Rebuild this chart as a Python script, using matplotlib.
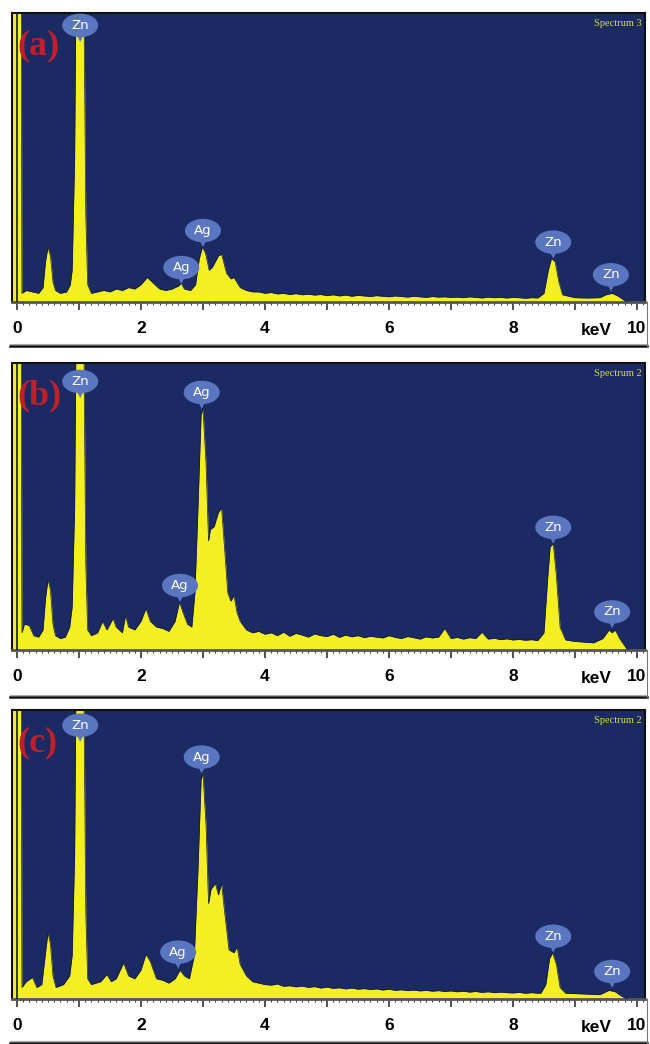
import matplotlib
matplotlib.use("Agg")
import matplotlib.pyplot as plt
import matplotlib.transforms as transforms
from matplotlib.patches import Ellipse, Polygon
from matplotlib.lines import Line2D
from matplotlib.ticker import FixedLocator, MultipleLocator

# ---- data (keV, relative counts; 1.0 = top of panel) ----
TAIL_KEV = [3.9, 4.0, 4.1, 4.2, 4.3, 4.4, 4.5, 4.6, 4.7, 4.8,
            4.9, 5.0, 5.1, 5.2, 5.3, 5.4, 5.5, 5.6, 5.7, 5.8,
            5.9, 6.0, 6.1, 6.2, 6.3, 6.4, 6.5, 6.6, 6.7, 6.8,
            6.9, 7.0, 7.1, 7.2, 7.3, 7.4, 7.5, 7.6, 7.7, 7.8,
            7.9, 8.0, 8.1, 8.2, 8.3, 8.4]

# panel (a)
a_head_keV = [-0.1, 0.07, 0.08, 0.15, 0.25, 0.35, 0.42, 0.46, 0.5, 0.54, 0.58, 0.62, 0.7, 0.8,
              0.86, 0.89, 0.93, 0.95, 1.08, 1.11, 1.14, 1.2, 1.3, 1.4, 1.5, 1.6, 1.7, 1.8,
              1.9, 2.0, 2.1, 2.2, 2.3, 2.4, 2.5, 2.6, 2.65, 2.7, 2.8, 2.88, 2.94, 2.99,
              3.04, 3.1, 3.15, 3.25, 3.3, 3.38, 3.45, 3.5, 3.6, 3.7, 3.8]
a_head = [1.05, 1.05, 0.03, 0.04, 0.035, 0.03, 0.05, 0.14, 0.19, 0.16, 0.07, 0.04, 0.03, 0.035,
          0.06, 0.11, 0.5, 1.05, 1.05, 0.3, 0.06, 0.03, 0.035, 0.04, 0.035, 0.045, 0.04, 0.05,
          0.045, 0.06, 0.085, 0.065, 0.045, 0.04, 0.045, 0.055, 0.065, 0.045, 0.04, 0.06, 0.15, 0.19,
          0.17, 0.11, 0.12, 0.16, 0.165, 0.1, 0.08, 0.085, 0.05, 0.04, 0.035]
a_tail = [0.035, 0.03, 0.033, 0.028, 0.03, 0.026, 0.029, 0.025, 0.027, 0.024,
          0.026, 0.022, 0.025, 0.021, 0.024, 0.02, 0.023, 0.021, 0.019, 0.022,
          0.02, 0.018, 0.021, 0.019, 0.017, 0.02, 0.018, 0.016, 0.019, 0.017,
          0.018, 0.016, 0.017, 0.015, 0.018, 0.016, 0.014, 0.017, 0.015, 0.016,
          0.014, 0.016, 0.015, 0.013, 0.015, 0.014]
a_end_keV = [8.5, 8.57, 8.62, 8.68, 8.74, 8.8, 9.0, 9.2, 9.4, 9.5, 9.6, 9.7, 9.8, 9.85]
a_end = [0.03, 0.11, 0.15, 0.14, 0.07, 0.025, 0.015, 0.014, 0.015, 0.025, 0.03, 0.02, 0.005, 0.0]

# panel (b)
b_head_keV = [-0.1, 0.07, 0.08, 0.12, 0.2, 0.27, 0.35, 0.42, 0.46, 0.5, 0.54, 0.58, 0.62, 0.7, 0.78,
              0.85, 0.89, 0.93, 0.95, 1.08, 1.11, 1.14, 1.2, 1.3, 1.38, 1.45, 1.55, 1.6, 1.7,
              1.75, 1.8, 1.9, 2.0, 2.08, 2.15, 2.25, 2.35, 2.45, 2.55, 2.62, 2.68, 2.75, 2.82,
              2.87, 2.92, 2.97, 3.0, 3.05, 3.09, 3.12, 3.18, 3.25, 3.3, 3.35, 3.4, 3.45, 3.5, 3.55,
              3.6, 3.7, 3.8]
b_head = [1.05, 1.05, 0.06, 0.09, 0.085, 0.05, 0.045, 0.07, 0.18, 0.245, 0.21, 0.09, 0.05, 0.04, 0.045,
          0.08, 0.15, 0.5, 1.05, 1.05, 0.3, 0.07, 0.05, 0.06, 0.1, 0.07, 0.11, 0.08, 0.06,
          0.12, 0.08, 0.07, 0.1, 0.145, 0.1, 0.08, 0.075, 0.065, 0.1, 0.167, 0.13, 0.09, 0.08,
          0.2, 0.5, 0.82, 0.84, 0.65, 0.38, 0.42, 0.43, 0.48, 0.495, 0.35, 0.2, 0.17, 0.19, 0.13,
          0.1, 0.07, 0.06]
b_tail = [0.065, 0.055, 0.06, 0.05, 0.062, 0.048, 0.058, 0.052, 0.045, 0.056,
          0.05, 0.047, 0.055, 0.044, 0.052, 0.046, 0.05, 0.043, 0.048, 0.045,
          0.042, 0.05, 0.044, 0.04, 0.047, 0.043, 0.038, 0.046, 0.042, 0.045,
          0.075, 0.04, 0.044, 0.038, 0.043, 0.04, 0.062, 0.038, 0.041, 0.036,
          0.039, 0.035, 0.037, 0.034, 0.036, 0.033]
b_end_keV = [8.5, 8.56, 8.6, 8.65, 8.7, 8.76, 8.85, 9.0, 9.3, 9.45, 9.55, 9.6, 9.65, 9.72, 9.8, 9.85]
b_end = [0.06, 0.25, 0.36, 0.37, 0.26, 0.08, 0.035, 0.03, 0.025, 0.04, 0.07, 0.06, 0.07, 0.04, 0.015, 0.0]

# panel (c)
c_head_keV = [-0.1, 0.07, 0.08, 0.15, 0.25, 0.32, 0.4, 0.46, 0.5, 0.54, 0.58, 0.63, 0.75, 0.85,
              0.89, 0.93, 0.95, 1.08, 1.11, 1.14, 1.2, 1.35, 1.45, 1.52, 1.6, 1.72, 1.8,
              1.9, 2.0, 2.08, 2.15, 2.25, 2.35, 2.45, 2.55, 2.63, 2.7, 2.78, 2.86, 2.92,
              2.97, 3.0, 3.05, 3.09, 3.13, 3.2, 3.25, 3.3, 3.35, 3.42, 3.5, 3.55, 3.6, 3.7, 3.8]
c_head = [1.05, 1.05, 0.04, 0.06, 0.075, 0.04, 0.05, 0.16, 0.23, 0.19, 0.08, 0.04, 0.05, 0.08,
          0.15, 0.5, 1.05, 1.05, 0.3, 0.07, 0.05, 0.06, 0.085, 0.06, 0.07, 0.125, 0.08,
          0.07, 0.1, 0.155, 0.13, 0.07, 0.065, 0.055, 0.07, 0.1, 0.08, 0.07, 0.15, 0.45,
          0.76, 0.78, 0.6, 0.33, 0.38, 0.4, 0.36, 0.4, 0.3, 0.17, 0.16, 0.18, 0.12, 0.08, 0.06]
c_tail = [0.055, 0.05, 0.048, 0.052, 0.044, 0.046, 0.042, 0.045, 0.04, 0.043,
          0.038, 0.041, 0.037, 0.039, 0.035, 0.038, 0.034, 0.036, 0.033, 0.035,
          0.031, 0.034, 0.03, 0.032, 0.029, 0.031, 0.028, 0.03, 0.027, 0.029,
          0.026, 0.028, 0.025, 0.027, 0.024, 0.026, 0.023, 0.025, 0.022, 0.024,
          0.022, 0.021, 0.023, 0.02, 0.022, 0.02]
c_end_keV = [8.45, 8.53, 8.59, 8.64, 8.7, 8.76, 8.85, 9.2, 9.4, 9.55, 9.65, 9.75, 9.85]
c_end = [0.02, 0.05, 0.14, 0.16, 0.12, 0.04, 0.02, 0.017, 0.015, 0.03, 0.025, 0.01, 0.0]

# peak labels: element, energy, height the pointer touches
a_lab = ['Zn', 'Ag', 'Ag', 'Zn', 'Zn']
a_lab_keV = [1.02, 2.65, 3.0, 8.65, 9.58]
a_lab_y = [0.90, 0.062, 0.19, 0.15, 0.037]
b_lab = ['Zn', 'Ag', 'Ag', 'Zn', 'Zn']
b_lab_keV = [1.02, 2.63, 2.98, 8.65, 9.6]
b_lab_y = [0.878, 0.167, 0.84, 0.37, 0.075]
c_lab = ['Zn', 'Ag', 'Ag', 'Zn', 'Zn']
c_lab_keV = [1.02, 2.6, 2.98, 8.65, 9.6]
c_lab_y = [0.89, 0.105, 0.78, 0.16, 0.038]

panel_tags = ['(a)', '(b)', '(c)']
spectrum_names = ['Spectrum 3', 'Spectrum 2', 'Spectrum 2']
tick_keV = [0, 1, 2, 3, 4, 5, 6, 7, 8, 9, 10]
tick_text = ['0', '', '2', '', '4', '', '6', '', '8', '', '10']

NAVY = '#1b2a63'
YELLOW = '#f4ef22'
BUBBLE = '#5b76c0'

fig = plt.figure(figsize=(6.5, 10.44), dpi=100)
W, H = 650.0, 1044.0

# pixel boxes: (top, baseline, strip bottom)
boxes = [(13, 302, 346), (363, 650, 697), (710, 999, 1043)]
spectra = [
    (a_head_keV + TAIL_KEV + a_end_keV, a_head + a_tail + a_end, a_lab, a_lab_keV, a_lab_y),
    (b_head_keV + TAIL_KEV + b_end_keV, b_head + b_tail + b_end, b_lab, b_lab_keV, b_lab_y),
    (c_head_keV + TAIL_KEV + c_end_keV, c_head + c_tail + c_end, c_lab, c_lab_keV, c_lab_y),
]


def bubble(ax, x, y, name):
    # ellipse label with a small pointer, sized in inches and anchored at a data point
    trans = fig.dpi_scale_trans + transforms.ScaledTranslation(x, y, ax.transData)
    ax.add_patch(Ellipse((0, 0.165), 0.36, 0.235, transform=trans, fc=BUBBLE, ec='none',
                         clip_on=False, zorder=5))
    ax.add_patch(Polygon([(-0.035, 0.07), (0.035, 0.07), (0, 0)], closed=True, transform=trans,
                         fc=BUBBLE, ec='none', clip_on=False, zorder=5))
    ax.text(0, 0.165, name, transform=trans, ha='center', va='center', color='white',
            fontsize=9.5, zorder=6)


for i, ((top, base, strip), (kev, cps, labs, lab_kev, lab_y)) in enumerate(zip(boxes, spectra)):
    ax = fig.add_axes([12 / W, 1 - base / H, 633 / W, (base - top) / H])
    ax.set_facecolor(NAVY)
    ax.set_xlim(-0.08, 10.13)
    ax.set_ylim(0, 1)

    ax.fill_between(kev, 0, cps, color=YELLOW, lw=0, zorder=2)
    ax.plot(kev, cps, color='#101a40', lw=0.5, zorder=3)
    ax.axvline(0.0, color='#101a40', lw=1.2, zorder=3)

    for name, x, y in zip(labs, lab_kev, lab_y):
        bubble(ax, x, y, name)

    ax.text(0.008, 0.885, panel_tags[i], transform=ax.transAxes, color='#c0202a',
            fontsize=26, fontweight='bold', family='Liberation Serif', va='center', zorder=6)
    ax.text(0.995, 0.978, spectrum_names[i], transform=ax.transAxes, color='#d4dc3c',
            fontsize=7.5, family='Liberation Serif', ha='right', va='top')

    ax.yaxis.set_visible(False)
    ax.xaxis.set_major_locator(FixedLocator(tick_keV))
    ax.set_xticklabels(tick_text)
    ax.xaxis.set_minor_locator(MultipleLocator(0.1))
    ax.tick_params(axis='x', which='major', direction='out', length=6, width=1.1,
                   pad=8, labelsize=12.5, color='#222222')
    ax.tick_params(axis='x', which='minor', direction='out', length=2.5, width=0.8,
                   color='#444444')
    for lbl in ax.get_xticklabels():
        lbl.set_fontweight('bold')
        lbl.set_family('Liberation Sans')
    ax.text(9.35, -0.1, 'keV', transform=ax.get_xaxis_transform(), ha='center', va='center',
            fontsize=12.5, fontweight='bold', family='Liberation Sans', clip_on=False)

    for side in ['top', 'left', 'right']:
        ax.spines[side].set_color('#111111')
        ax.spines[side].set_linewidth(1.5)
    ax.spines['bottom'].set_color('#555555')
    ax.spines['bottom'].set_linewidth(2)

    # strip border
    yb = 1 - strip / H
    fig.add_artist(Line2D([10 / W, 647 / W], [yb, yb], transform=fig.transFigure,
                          color='#111111', lw=1.8))
    fig.add_artist(Line2D([10 / W, 647 / W], [yb + 2.5 / H, yb + 2.5 / H], transform=fig.transFigure,
                          color='#aaaaaa', lw=0.8))
    fig.add_artist(Line2D([647 / W, 647 / W], [yb, 1 - base / H], transform=fig.transFigure,
                          color='#777777', lw=0.8))

fig.savefig('out.png', dpi=100, facecolor='white')
